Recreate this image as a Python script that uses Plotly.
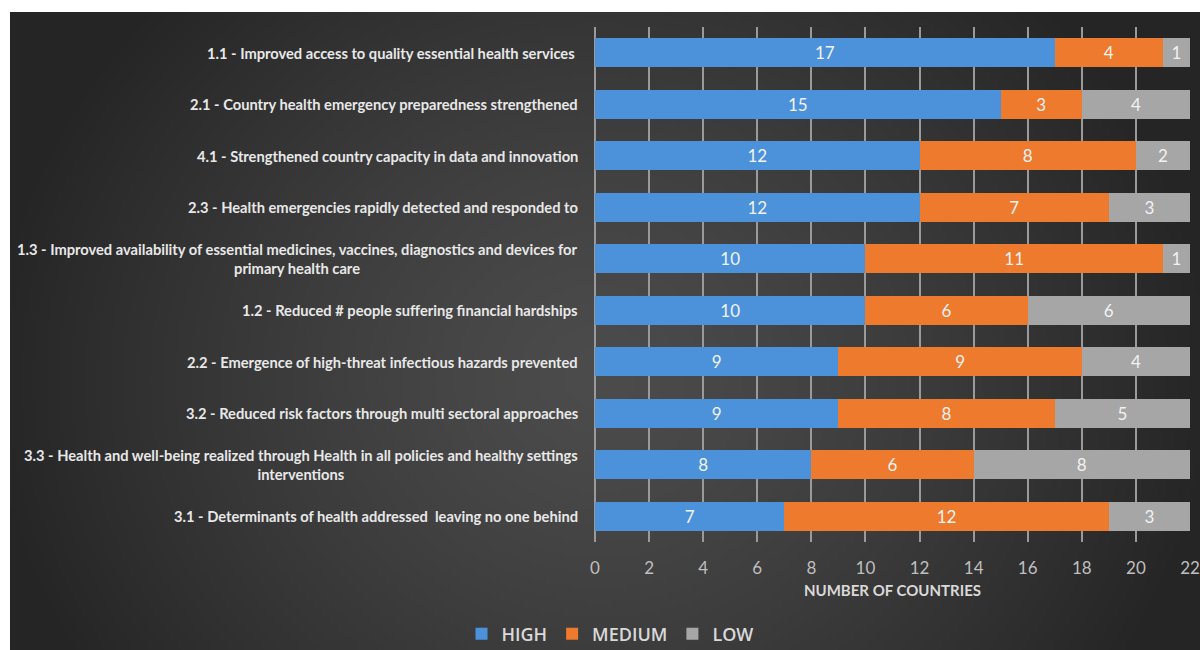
import base64, struct, zlib
import numpy as np
import plotly.graph_objects as go

categories = [
    "1.1 - Improved access to quality essential health services ",
    "2.1 - Country health emergency preparedness strengthened",
    "4.1 - Strengthened country capacity in data and innovation",
    "2.3 - Health emergencies rapidly detected and responded to",
    "1.3 - Improved availability of essential medicines, vaccines, diagnostics and devices for<br>primary health care",
    "1.2 - Reduced # people suffering financial hardships",
    "2.2 - Emergence of high-threat infectious hazards prevented",
    "3.2 - Reduced risk factors through multi sectoral approaches",
    "3.3 - Health and well-being realized through Health in all policies and healthy settings<br>interventions",
    "3.1 - Determinants of health addressed  leaving no one behind",
]
high = [17, 15, 12, 12, 10, 10, 9, 9, 8, 7]
medium = [4, 3, 8, 7, 11, 6, 9, 8, 6, 12]
low = [1, 4, 2, 3, 1, 6, 4, 5, 8, 3]
series_names = ["HIGH", "MEDIUM", "LOW"]
x_ticks = list(range(0, 23, 2))
x_title = "NUMBER OF COUNTRIES"

# ---- page geometry (pixels) ----
W, H = 1200, 650
L, R, T, B = 595, 10, 27, 108
pw, ph = W - L - R, H - T - B

# ---- radial gradient background image ----
gw, gh = 298, 160
X = np.linspace(10, 1200, gw)[None, :]
Y = np.linspace(12, 650, gh)[:, None]
r = np.sqrt(((X - 600) / 620) ** 2 + ((Y - 380) / 560) ** 2)
r = np.clip(r, 0, 1)
v = 0x4c - (0x4c - 0x25) * r ** 1.3
img = np.clip(v, 0, 255).astype(np.uint8)
rgb = np.repeat(img[:, :, None], 3, axis=2)
raw = b"".join(b"\x00" + rgb[i].tobytes() for i in range(gh))


def chunk(tag, data):
    c = struct.pack(">I", len(data)) + tag + data
    return c + struct.pack(">I", zlib.crc32(tag + data) & 0xFFFFFFFF)


png = (b"\x89PNG\r\n\x1a\n" + chunk(b"IHDR", struct.pack(">IIBBBBB", gw, gh, 8, 2, 0, 0, 0))
       + chunk(b"IDAT", zlib.compress(raw, 9)) + chunk(b"IEND", b""))
src = "data:image/png;base64," + base64.b64encode(png).decode()

FONT = "Lato, sans-serif"
colors = ["#4c92db", "#ee7a2d", "#a6a6a6"]

fig = go.Figure()
for name, vals, col in zip(series_names, [high, medium, low], colors):
    fig.add_trace(go.Bar(
        y=categories, x=vals, name=name, orientation="h",
        marker=dict(color=col, line=dict(width=0)),
        text=vals, textposition="inside", insidetextanchor="middle",
        textangle=0, constraintext="none",
        textfont=dict(family=FONT, size=17, color="#f2f2f2"),
        hoverinfo="x+name",
    ))

for c in categories:
    fig.add_annotation(
        x=-15 / pw, xref="paper", y=c, yref="y", text=c, showarrow=False,
        xanchor="right", yanchor="middle", align="center",
        font=dict(family=FONT, size=14.7, color="#e8e8e8", weight="bold"),
    )

fig.add_layout_image(
    source=src, xref="paper", yref="paper",
    x=(10 - L) / pw, y=(T + ph - 12) / ph,
    sizex=1190 / pw, sizey=638 / ph,
    xanchor="left", yanchor="top", sizing="stretch", layer="below",
)

fig.update_layout(
    width=W, height=H, barmode="stack", bargap=0.43,
    margin=dict(l=L, r=R, t=T, b=B, autoexpand=False),
    paper_bgcolor="white", plot_bgcolor="rgba(0,0,0,0)",
    showlegend=True,
    legend=dict(orientation="h", x=(610 - L) / pw, xanchor="center",
                y=(T + ph - 634) / ph, yanchor="middle",
                font=dict(family="Open Sans, sans-serif", size=18, color="#d9d9d9", weight=600),
                bgcolor="rgba(0,0,0,0)", itemwidth=30, traceorder="normal"),
    xaxis=dict(range=[0, 22], tickvals=x_ticks, showgrid=True,
               gridcolor="#9a9a9a", gridwidth=2, zeroline=True,
               zerolinecolor="#9a9a9a", zerolinewidth=2, showline=False,
               tickfont=dict(family=FONT, size=17, color="#bfbfbf"),
               ticks="", ticklabelstandoff=14,
               title=dict(text=x_title, standoff=8,
                          font=dict(family=FONT, size=15, color="#d9d9d9", weight="bold"))),
    yaxis=dict(autorange="reversed", showticklabels=False, showgrid=False,
               zeroline=False, ticks=""),
)

fig.write_html("out.html")
